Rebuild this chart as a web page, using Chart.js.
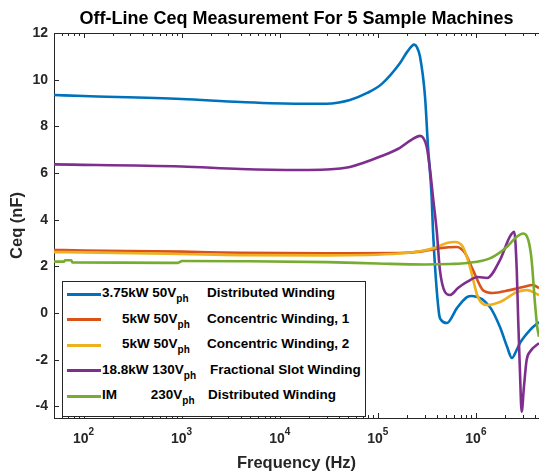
<!DOCTYPE html>
<html>
<head>
<meta charset="utf-8">
<script src="https://cdn.jsdelivr.net/npm/chart.js@4.4.0/dist/chart.umd.min.js"></script>
<style>
  html, body { margin: 0; padding: 0; background: #fff; }
  body { width: 539px; height: 473px; overflow: hidden; position: relative; font-family: "Liberation Sans", Arial, sans-serif; }
  #chart { position: absolute; left: 0; top: 0; }
  #legend { position: absolute; left: 62px; top: 281px; width: 302px; height: 134px; border: 1px solid #262626; background: #fff; font-weight: bold; font-size: 13.5px; color: #000; }
  .swatch { position: absolute; left: 4px; width: 34px; height: 3px; }
  .txt { position: absolute; white-space: pre; line-height: 16px; }
  .txt sub { font-size: 10px; vertical-align: -5px; line-height: 0; }
</style>
</head>
<body>
<canvas id="chart" width="539" height="473"></canvas>
<div id="legend"></div>
<script>
// values (frequency in Hz, Ceq in nF)
const freq375 = [50, 100, 1e3, 4e3, 1.6e4, 3e4, 5.2e4, 7.8e4, 1.1e5, 1.68e5, 2.0e5, 2.35e5, 2.5e5, 2.69e5, 3.03e5, 3.25e5, 3.54e5, 3.65e5, 4.2e5, 4.42e5, 5.07e5, 6.41e5, 8.11e5, 9.14e5, 1.39e6, 1.76e6, 2.08e6, 2.33e6, 2.6e6, 2.81e6, 3.56e6, 4.4e6];
const ceq375 = [9.34, 9.3, 9.17, 9.04, 8.97, 8.97, 9.13, 9.43, 9.82, 10.7, 11.2, 11.5, 11.4, 11.0, 9.27, 7.13, 4.98, 3.56, 0.0, -0.3, -0.43, 0.21, 0.68, 0.73, 0.26, -0.6, -1.45, -1.93, -1.59, -1.29, -0.73, -0.39];

const freqCw1 = [50, 100, 1e3, 4e3, 3e4, 1.68e5, 2.7e5, 4.3e5, 6.4e5, 7.74e5, 9.35e5, 1.18e6, 1.49e6, 2.22e6, 3.02e6, 3.82e6, 4.4e6];
const ceqCw1 = [2.7, 2.68, 2.63, 2.58, 2.56, 2.57, 2.63, 2.78, 2.83, 2.57, 1.84, 0.98, 0.86, 0.98, 1.11, 1.2, 1.07];

const freqCw2 = [50, 100, 1e3, 4e3, 3e4, 1.68e5, 2.7e5, 3.83e5, 5.07e5, 6.12e5, 7.38e5, 8.7e5, 1.05e6, 1.3e6, 1.76e6, 2.62e6, 3.32e6, 4.4e6];
const ceqCw2 = [2.61, 2.6, 2.53, 2.48, 2.47, 2.55, 2.65, 2.8, 3.0, 3.04, 2.83, 1.97, 0.68, 0.34, 0.47, 0.9, 0.98, 0.77];

const freqFsw = [50, 1e3, 4e3, 1.6e4, 3e4, 5.2e4, 1.13e5, 1.68e5, 2.2e5, 2.69e5, 3.15e5, 3.41e5, 3.65e5, 3.98e5, 4.3e5, 4.84e5, 5.44e5, 6.57e5, 8.11e5, 1.05e6, 1.3e6, 1.76e6, 2.22e6, 2.46e6, 2.61e6, 2.7e6, 2.81e6, 2.93e6, 3.09e6, 3.29e6, 3.56e6, 4.4e6];
const ceqFsw = [6.37, 6.28, 6.17, 6.13, 6.15, 6.26, 6.75, 7.08, 7.42, 7.59, 7.13, 6.13, 4.98, 3.56, 1.84, 0.9, 0.77, 1.07, 1.33, 1.54, 1.5, 2.27, 3.27, 3.48, 1.84, -0.3, -2.44, -4.23, -3.16, -2.02, -1.66, -1.29];

const freqIm = [50, 63, 65, 75, 77, 918, 1010, 4e3, 3e4, 1e5, 3e5, 5.5e5, 8.11e5, 1.39e6, 2.08e6, 2.61e6, 3.04e6, 3.42e6, 3.7e6, 4.0e6, 4.22e6, 4.4e6];
const ceqIm = [2.2, 2.2, 2.26, 2.26, 2.17, 2.15, 2.23, 2.22, 2.18, 2.12, 2.08, 2.1, 2.14, 2.34, 2.84, 3.27, 3.41, 3.13, 2.27, 0.43, -0.59, -1.02];

const legendPower = ['3.75kW 50V', '5kW 50V', '5kW 50V', '18.8kW 130V', 'IM         230V'];
const legendWinding = ['Distributed Winding', 'Concentric Winding, 1', 'Concentric Winding, 2', 'Fractional Slot Winding', 'Distributed Winding'];
const lineColors = ['#0072BD', '#D95319', '#EDB120', '#7E2F8E', '#77AC30'];

const yTickValues = [-4, -2, 0, 2, 4, 6, 8, 10, 12];
const xTickExponents = [2, 3, 4, 5, 6];

const FONT = '"Liberation Sans", Arial, Helvetica, sans-serif';
Chart.defaults.font.family = FONT;

const seriesFreq = [freq375, freqCw1, freqCw2, freqFsw, freqIm];
const seriesCeq = [ceq375, ceqCw1, ceqCw2, ceqFsw, ceqIm];

const datasets = seriesFreq.map((f, i) => ({
    label: legendPower[i] + 'ph ' + legendWinding[i],
    data: f.map((v, j) => ({ x: v, y: seriesCeq[i][j] })),
    borderColor: lineColors[i],
    borderWidth: 2.6,
    pointRadius: 0,
    fill: false,
    cubicInterpolationMode: 'monotone',
    order: -i
}));

function isPow10(v) {
    const e = Math.log10(v);
    return Math.abs(e - Math.round(e)) < 1e-9;
}

// inward ticks, top box line and 10^n labels
const axisDecor = {
    id: 'axisDecor',
    afterDraw(chart) {
        const { ctx, chartArea: a, scales: { x, y } } = chart;
        ctx.save();
        ctx.strokeStyle = '#262626';
        ctx.lineWidth = 1;
        ctx.beginPath();
        ctx.moveTo(a.left, a.top + 0.5);
        ctx.lineTo(a.right, a.top + 0.5);
        x.ticks.forEach(t => {
            const px = Math.round(x.getPixelForValue(t.value)) + 0.5;
            const len = isPow10(t.value) ? 5 : 3;
            ctx.moveTo(px, a.bottom);
            ctx.lineTo(px, a.bottom - len);
            ctx.moveTo(px, a.top);
            ctx.lineTo(px, a.top + len);
        });
        y.ticks.forEach(t => {
            const py = Math.round(y.getPixelForValue(t.value)) + 0.5;
            ctx.moveTo(a.left, py);
            ctx.lineTo(a.left + 5, py);
        });
        ctx.stroke();

        ctx.fillStyle = '#262626';
        ctx.textBaseline = 'middle';
        ctx.textAlign = 'left';
        xTickExponents.forEach(e => {
            const px = x.getPixelForValue(Math.pow(10, e));
            ctx.font = 'bold 14px ' + FONT;
            const wBase = ctx.measureText('10').width;
            ctx.font = 'bold 10px ' + FONT;
            const wExp = ctx.measureText(String(e)).width;
            const start = px - (wBase + wExp) / 2;
            ctx.font = 'bold 14px ' + FONT;
            ctx.fillText('10', start, 439);
            ctx.font = 'bold 10px ' + FONT;
            ctx.fillText(String(e), start + wBase, 432);
        });
        ctx.restore();
    }
};

new Chart(document.getElementById('chart'), {
    type: 'line',
    data: { datasets },
    options: {
        responsive: false,
        animation: false,
        layout: { padding: 0 },
        plugins: {
            legend: { display: false },
            tooltip: { enabled: false },
            title: {
                display: true,
                fullSize: false,
                text: 'Off-Line Ceq Measurement For 5 Sample Machines',
                color: '#000',
                font: { size: 18, weight: 'bold' },
                padding: { top: 8, bottom: 3.4 }
            }
        },
        scales: {
            x: {
                type: 'logarithmic',
                min: 50,
                max: 4.4e6,
                grid: { display: false, drawTicks: false },
                border: { display: true, color: '#262626', width: 1 },
                ticks: { display: false },
                afterBuildTicks: (s) => {
                    const ticks = [];
                    for (let d = 1; d <= 6; d++) {
                        for (let m = 1; m <= 9; m++) {
                            const v = m * Math.pow(10, d);
                            if (v >= s.min && v <= s.max) ticks.push({ value: v });
                        }
                    }
                    s.ticks = ticks;
                },
                afterFit: (s) => { s.height = 55; },
                title: {
                    display: true,
                    text: 'Frequency (Hz)',
                    color: '#262626',
                    font: { size: 16.5, weight: 'bold' },
                    padding: 0
                }
            },
            y: {
                min: -4.5,
                max: 12,
                grid: { display: false, drawTicks: false },
                border: { display: true, color: '#262626', width: 1 },
                afterBuildTicks: (s) => { s.ticks = yTickValues.map(v => ({ value: v })); },
                ticks: {
                    color: '#262626',
                    padding: 6,
                    font: { size: 14, weight: 'bold' }
                },
                afterFit: (s) => { s.width = 54; },
                title: {
                    display: true,
                    text: 'Ceq (nF)',
                    color: '#262626',
                    font: { size: 16.5, weight: 'bold' },
                    padding: { top: 8, bottom: 0 }
                }
            }
        }
    },
    plugins: [axisDecor]
});

// legend with subscripts, drawn as html over the axes
const legendBox = document.getElementById('legend');
const rowCenters = [12, 37.5, 63, 88.5, 114];
const powerLeft = [39, 59, 59, 39, 39];
const windingLeft = [144, 144, 144, 147, 145];
legendPower.forEach((p, i) => {
    const sw = document.createElement('div');
    sw.className = 'swatch';
    sw.style.top = (rowCenters[i] - 1.5) + 'px';
    sw.style.background = lineColors[i];
    legendBox.appendChild(sw);

    const t1 = document.createElement('div');
    t1.className = 'txt';
    t1.style.left = powerLeft[i] + 'px';
    t1.style.top = (rowCenters[i] - 9) + 'px';
    t1.innerHTML = p + '<sub>ph</sub>';
    legendBox.appendChild(t1);

    const t2 = document.createElement('div');
    t2.className = 'txt';
    t2.style.left = windingLeft[i] + 'px';
    t2.style.top = (rowCenters[i] - 9) + 'px';
    t2.textContent = legendWinding[i];
    legendBox.appendChild(t2);
});
</script>
</body>
</html>
